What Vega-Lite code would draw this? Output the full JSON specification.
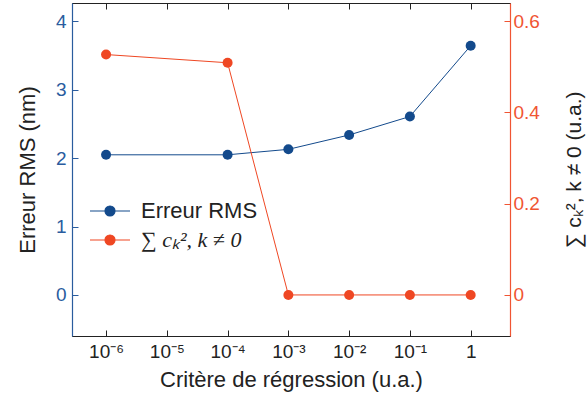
{
  "$schema": "https://vega.github.io/schema/vega-lite/v6.json",
  "width": 438,
  "height": 333,
  "autosize": {"type": "none"},
  "padding": {"left": 72, "top": 3, "right": 78, "bottom": 67},
  "config": {
    "view": {"stroke": "#222222", "strokeWidth": 1},
    "font": "Liberation Sans",
    "axis": {"grid": false, "labelFontSize": 19, "titleFontSize": 22, "titleFontWeight": "normal", "titleColor": "#222222", "tickSize": -6, "domainWidth": 1.2}
  },
  "data": {
    "values": [
      {"x": 1e-6, "value": 2.05, "series": "Erreur RMS"},
      {"x": 1e-4, "value": 2.05, "series": "Erreur RMS"},
      {"x": 1e-3, "value": 2.13, "series": "Erreur RMS"},
      {"x": 1e-2, "value": 2.34, "series": "Erreur RMS"},
      {"x": 1e-1, "value": 2.61, "series": "Erreur RMS"},
      {"x": 1, "value": 3.645, "series": "Erreur RMS"},
      {"x": 1e-6, "value": 0.527, "series": "∑ cₖ²,  k ≠ 0"},
      {"x": 1e-4, "value": 0.509, "series": "∑ cₖ²,  k ≠ 0"},
      {"x": 1e-3, "value": 0.0, "series": "∑ cₖ²,  k ≠ 0"},
      {"x": 1e-2, "value": 0.0, "series": "∑ cₖ²,  k ≠ 0"},
      {"x": 1e-1, "value": 0.0, "series": "∑ cₖ²,  k ≠ 0"},
      {"x": 1, "value": 0.0, "series": "∑ cₖ²,  k ≠ 0"}
    ]
  },
  "layer": [
    {
      "transform": [{"filter": "datum.series == 'Erreur RMS'"}],
      "mark": {"type": "line", "strokeWidth": 1, "point": {"filled": true, "size": 100, "opacity": 1}},
      "encoding": {
        "x": {
          "field": "x", "type": "quantitative",
          "scale": {"type": "log", "domain": [2.75e-7, 4.44], "nice": false},
          "axis": {
            "orient": "bottom",
            "values": [1e-6, 1e-5, 1e-4, 1e-3, 1e-2, 1e-1, 1],
            "labelExpr": "datum.value >= 0.5 ? '1' : datum.value > 0.05 ? '10⁻¹' : datum.value > 0.005 ? '10⁻²' : datum.value > 0.0005 ? '10⁻³' : datum.value > 0.00005 ? '10⁻⁴' : datum.value > 0.000005 ? '10⁻⁵' : '10⁻⁶'",
            "title": "Critère de régression (u.a.)",
            "domainColor": "#222222", "tickColor": "#222222", "labelColor": "#222222",
            "labelPadding": 12, "titlePadding": 8, "labelFlush": false
          }
        },
        "y": {
          "field": "value", "type": "quantitative",
          "scale": {"domain": [-0.6, 4.27], "nice": false, "zero": false},
          "axis": {
            "orient": "left",
            "values": [0, 1, 2, 3, 4],
            "title": "Erreur RMS (nm)",
            "domainColor": "#2a5c9e", "tickColor": "#2a5c9e", "labelColor": "#2a5c9e",
            "labelPadding": 12, "titlePadding": 16
          }
        },
        "color": {
          "field": "series", "type": "nominal",
          "scale": {"domain": ["Erreur RMS", "∑ cₖ²,  k ≠ 0"], "range": ["#134a8c", "#ef4723"]},
          "legend": {
            "orient": "none", "legendX": 27, "legendY": 197,
            "title": null,
            "symbolType": "M-4,0H4M-1,0A1,1 0 1,1 1,0A1,1 0 1,1 -1,0Z",
            "symbolSize": 100, "symbolStrokeWidth": 1.2,
            "labelFontSize": 22, "labelColor": "#222222", "labelOffset": 20,
            "rowPadding": 7, "padding": 0,
            "encode": {
              "symbols": {"update": {"fill": {"scale": "color", "field": "value"}, "stroke": {"scale": "color", "field": "value"}, "opacity": {"value": 1}}},
              "labels": {"update": {
                "font": {"signal": "datum.label == 'Erreur RMS' ? 'Liberation Sans' : 'Liberation Serif'"},
                "fontStyle": {"signal": "datum.label == 'Erreur RMS' ? 'normal' : 'italic'"}
              }}
            }
          }
        }
      }
    },
    {
      "transform": [{"filter": "datum.series != 'Erreur RMS'"}],
      "mark": {"type": "line", "strokeWidth": 1, "point": {"filled": true, "size": 100, "opacity": 1}},
      "encoding": {
        "x": {
          "field": "x", "type": "quantitative",
          "scale": {"type": "log", "domain": [2.75e-7, 4.44], "nice": false},
          "axis": {
            "orient": "top",
            "values": [1e-6, 1e-5, 1e-4, 1e-3, 1e-2, 1e-1, 1],
            "labels": false, "title": null,
            "domainColor": "#222222", "tickColor": "#222222"
          }
        },
        "y": {
          "field": "value", "type": "quantitative",
          "scale": {"domain": [-0.09, 0.64], "nice": false, "zero": false},
          "axis": {
            "orient": "right",
            "values": [0, 0.2, 0.4, 0.6],
            "format": ".1~f",
            "title": "∑ cₖ²,  k ≠ 0 (u.a.)",
            "titleAngle": 270,
            "titleFontSize": 21,
            "domainColor": "#f05533", "tickColor": "#f05533", "labelColor": "#f05533",
            "labelPadding": 9, "titlePadding": 45
          }
        },
        "color": {"field": "series", "type": "nominal"}
      }
    }
  ],
  "resolve": {"scale": {"y": "independent"}, "axis": {"x": "independent"}}
}
